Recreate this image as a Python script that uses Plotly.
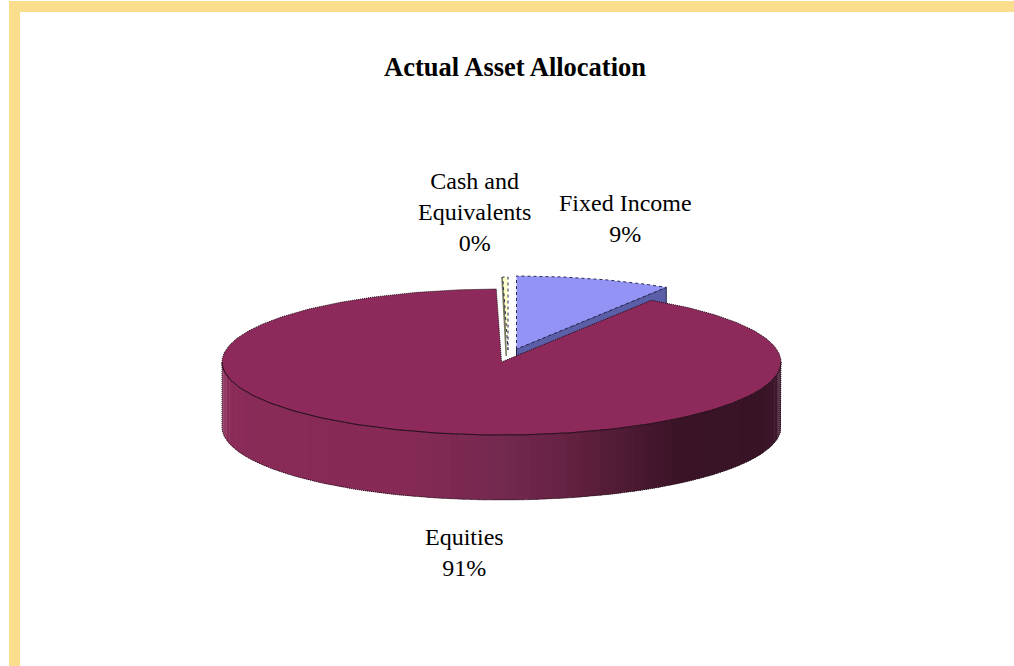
import numpy as np
import plotly.graph_objects as go

title = "Actual Asset Allocation"
categories = ["Fixed Income", "Equities", "Cash and<br>Equivalents"]
values = [9.0, 90.7, 0.3]
colors_top = ["#9393F5", "#8E2A5B", "#FFFFCC"]
colors_cut = ["#5A5FA8", "#6B2045", "#77775A"]
explode = [(15, -13), (0, 0), (6.5, -12)]
label_pos = [(625, 218), (464, 552), (474, 212)]

CX, CY, RX, RY, DEPTH = 501.5, 362.0, 279.5, 73.0, 65.0
shade_x = [222, 400, 500, 560, 620, 680, 760, 781]
shade_rgb = [(138, 43, 88), (134, 42, 85), (116, 41, 79), (102, 34, 66),
             (80, 27, 53), (58, 19, 38), (56, 19, 38), (64, 24, 46)]

fig = go.Figure()


def poly(xs, ys, fill, line="rgba(0,0,0,0)", width=0, dash="solid"):
    fig.add_trace(go.Scatter(x=xs, y=ys, mode="lines", fill="toself", fillcolor=fill,
                             line=dict(color=line, width=width, dash=dash),
                             hoverinfo="skip", showlegend=False))


def arc(t0, t1, n, cx, cy):
    t = np.radians(np.linspace(t0, t1, n))
    return cx + RX * np.sin(t), cy - RY * np.cos(t)


# Slice angles follow from the values, starting at twelve o'clock.
edges = np.concatenate([[0], np.cumsum(values)]) * 3.6
spans = list(zip(edges[:-1], edges[1:]))

# Fixed income and cash: cut faces and top faces
for i in (0, 2):
    a0, a1 = spans[i]
    cx, cy = CX + explode[i][0], CY + explode[i][1]
    ax, ay = arc(a0, a1, 40, cx, cy)
    if i == 0:
        poly([cx, ax[-1], ax[-1], cx, cx], [cy, ay[-1], ay[-1] + DEPTH, cy + DEPTH, cy],
             colors_cut[i], "#22224A", 1)
    else:
        poly([ax[0] - 1.5, ax[0] + 1, cx - 1, cx - 2.5, ax[0] - 1.5],
             [ay[0], ay[0], cy + 6, cy + 6, ay[0]], colors_cut[i])
    poly(np.r_[cx, ax, cx], np.r_[cy, ay, cy], colors_top[i], "#2A2A55", 1, "dot")

# Equities: side wall with horizontal shading, then the top
a0, a1 = spans[1]
steps = np.arange(90, 270, 1.5)
for s in steps:
    ax, ay = arc(s, min(s + 1.9, 270), 4, CX, CY)
    r, g, b = [np.interp((ax[0] + ax[-1]) / 2, shade_x, [c[k] for c in shade_rgb]) for k in range(3)]
    col = f"rgb({r:.0f},{g:.0f},{b:.0f})"
    poly(np.r_[ax, ax[::-1], ax[0]], np.r_[ay, ay[::-1] + DEPTH, ay[0]], col)

bx, by = arc(90, 270, 180, CX, CY)
fig.add_trace(go.Scatter(x=np.r_[bx[0], bx, bx[-1]], y=np.r_[by[0], by + DEPTH, by[-1]],
                         mode="lines", line=dict(color="#1A0A12", width=1, dash="1px,1px"),
                         hoverinfo="skip", showlegend=False))

ax, ay = arc(a0, a1, 360, CX, CY)
poly(np.r_[CX, ax, CX], np.r_[CY, ay, CY], colors_top[1], "#1A0A12", 1, "1px,1px")
fx, fy = arc(90, 270, 180, CX, CY)
fig.add_trace(go.Scatter(x=fx, y=fy, mode="lines", line=dict(color="#2A0E1E", width=1),
                         hoverinfo="skip", showlegend=False))

annotations = [dict(text=f"<b>{title}</b>", x=515, y=67, showarrow=False,
                    font=dict(family="Liberation Serif", size=26.5, color="black"))]
for name, v, (lx, ly) in zip(categories, values, label_pos):
    annotations.append(dict(text=f"{name}<br>{round(v)}%", x=lx, y=ly, showarrow=False, align="center",
                            font=dict(family="Liberation Serif", size=24, color="black")))

fig.update_layout(
    width=1014, height=666, margin=dict(l=0, r=0, t=0, b=0),
    paper_bgcolor="white", plot_bgcolor="white", showlegend=False,
    xaxis=dict(range=[0, 1014], visible=False, fixedrange=True),
    yaxis=dict(range=[666, 0], visible=False, fixedrange=True),
    annotations=annotations,
    shapes=[dict(type="rect", x0=14.5, y0=6.5, x1=1020, y1=672,
                 line=dict(color="#FBDD8E", width=11), fillcolor="rgba(0,0,0,0)", layer="below")],
)
fig.write_html("out.html", config=dict(displayModeBar=False),
               post_script="document.body.style.margin='0';document.body.style.overflow='hidden';")
